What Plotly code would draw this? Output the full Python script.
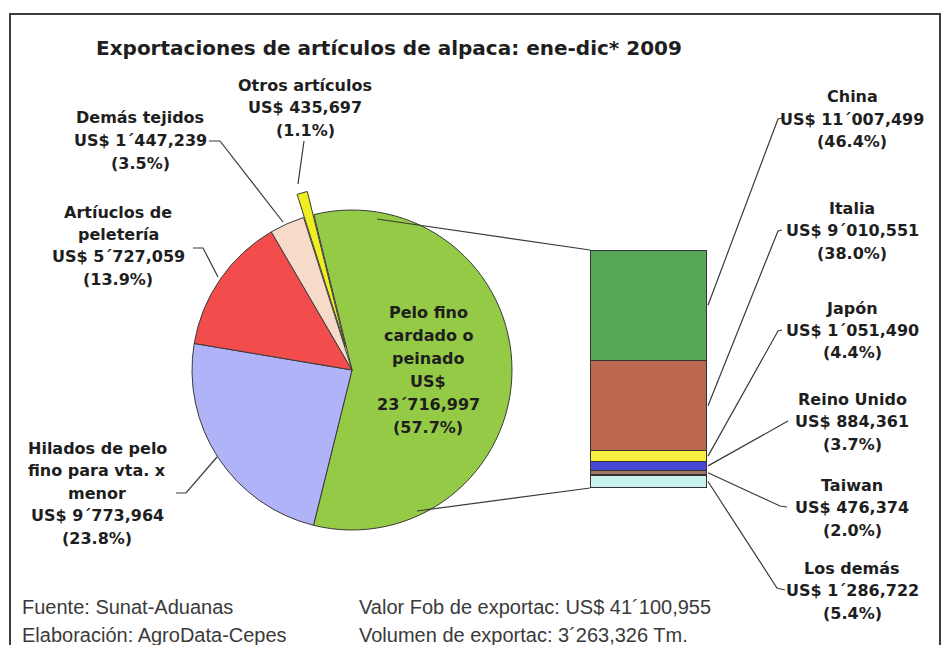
import plotly.graph_objects as go

# pie: product categories, clockwise from the big green slice
productos = ["Pelo fino cardado o peinado", "Hilados de pelo fino para vta. x menor",
             "Artíuclos de peletería", "Demás tejidos", "Otros artículos"]
valores_prod = [23716997, 9773964, 5727059, 1447239, 435697]
pct_prod = [57.7, 23.8, 13.9, 3.5, 1.1]
colores_prod = ["#94ca45", "#b0b3f7", "#f24c4c", "#f6dcc8", "#eeee22"]
pull_prod = [0, 0, 0, 0, 0.15]

# bar: destinations of "pelo fino", stacked bottom -> top
paises = ["Los demás", "Taiwan", "Reino Unido", "Japón", "Italia", "China"]
valores_pais = [1286722, 476374, 884361, 1051490, 9010551, 11007499]
pct_pais = [5.4, 2.0, 3.7, 4.4, 38.0, 46.4]
colores_pais = ["#c8f2ee", "#a07868", "#4848d8", "#f8f040", "#bc6850", "#58a85a"]

titulo = "Exportaciones de artículos de alpaca: ene-dic* 2009"
notas_izq = ["Fuente: Sunat-Aduanas", "Elaboración: AgroData-Cepes"]
notas_der = ["Valor Fob de exportac: US$ 41´100,955", "Volumen de exportac: 3´263,326 Tm."]

W, H = 941, 645
BOLD = "DejaVu Sans"
TXT = "#1e1e1e"


def px(x):
    return x / W


def py(y):
    return 1 - y / H


def fmt(v):
    if v >= 1000000:
        return f"US$ {v // 1000000}´{(v // 1000) % 1000:03d},{v % 1000:03d}"
    return f"US$ {v // 1000},{v % 1000:03d}"


fig = go.Figure()

# pie geometry (pixels)
cx, cy, r = 352, 370, 160
half = r * (1 + max(pull_prod))
fig.add_trace(go.Pie(
    labels=productos, values=valores_prod, sort=False, direction="clockwise",
    rotation=-13.8, pull=pull_prod, textinfo="none", hoverinfo="label+value",
    marker=dict(colors=colores_prod, line=dict(color="#3a3a3a", width=1)),
    domain=dict(x=[px(cx - half), px(cx + half)], y=[py(cy + half), py(cy - half)]),
    showlegend=False,
))

# stacked bar
bx0, bx1, by0, by1 = 590, 707, 250, 488
total = sum(valores_pais)
for p, v, c in zip(paises, valores_pais, colores_pais):
    fig.add_trace(go.Bar(
        x=[0], y=[v], name=p, width=1, marker=dict(color=c, line=dict(color="#333", width=1.2)),
        showlegend=False, hoverinfo="name+y",
    ))

fig.update_layout(
    barmode="stack",
    width=W, height=H,
    margin=dict(l=0, r=0, t=0, b=0),
    paper_bgcolor="white", plot_bgcolor="white",
    xaxis=dict(domain=[px(bx0), px(bx1)], range=[-0.5, 0.5], visible=False, fixedrange=True),
    yaxis=dict(domain=[py(by1), py(by0)], range=[0, total], visible=False, fixedrange=True),
)

shapes = []
line = dict(color="#3a3a3a", width=1.2)


def path(pts):
    d = "M " + " L ".join(f"{px(x):.5f},{py(y):.5f}" for x, y in pts)
    shapes.append(dict(type="path", path=d, xref="paper", yref="paper", line=line))


# frame
shapes.append(dict(type="rect", xref="paper", yref="paper", x0=px(10), y0=py(680), x1=px(940), y1=py(14),
                   line=dict(color="#3c3c3c", width=2)))

# zoom connectors pie -> bar
path([(377, 219), (bx0, by0)])
path([(417, 511), (bx0, by1)])

# segment midpoints of the bar (pixels)
mids = []
acc = 0
for v in valores_pais:
    mids.append(by1 - (acc + v / 2) / total * (by1 - by0))
    acc += v

anns = []


def label(lines, x, y0, dy=22.5, size=16, bold=True, anchor="center", family=BOLD, color=TXT):
    for i, t in enumerate(lines):
        anns.append(dict(
            text=t, x=px(x), y=py(y0 + i * dy), xref="paper", yref="paper",
            xanchor=anchor, yanchor="middle", showarrow=False,
            font=dict(family=family, size=size, color=color, weight="bold" if bold else "normal"),
        ))


# right labels (top -> bottom order of the bar: China first)
right_pos = {"China": 97, "Italia": 208, "Japón": 308, "Reino Unido": 399, "Taiwan": 485, "Los demás": 568}
leader_end = {
    "China": [(778, 119), (782, 118)],
    "Italia": [(778, 231), (782, 230)],
    "Japón": [(778, 331), (782, 330)],
    "Reino Unido": [(788, 421)],
    "Taiwan": [(780, 506), (787, 507)],
    "Los demás": [(777, 588), (785, 590)],
}
for p, v, pc, m in zip(paises, valores_pais, pct_pais, mids):
    y0 = right_pos[p]
    label([p, fmt(v), f"({pc:.1f}%)"], 852, y0)
    path([(bx1 + 1, m)] + leader_end[p])

# left labels
fp = lambda i: f"({pct_prod[i]:.1f}%)"
label(["Otros artículos", fmt(valores_prod[4]), fp(4)], 305, 85)
path([(304, 141), (298, 184)])
label(["Demás tejidos", fmt(valores_prod[3]), fp(3)], 140, 118)
path([(209, 141), (220, 141), (283, 222)])
label(["Artíuclos de", "peletería", fmt(valores_prod[2]), fp(2)], 118, 212)
path([(193, 248), (203, 248), (218, 277)])
label(["Hilados de pelo", "fino para vta. x", "menor", fmt(valores_prod[1]), fp(1)], 97, 448)
path([(176, 493), (186, 493), (217, 457)])

# label inside green slice
label(["Pelo fino", "cardado o", "peinado", "US$", fmt(valores_prod[0])[4:], fp(0)], 428, 312, dy=23)

# title
label([titulo], 389, 48, size=20)

# footer notes
label(notas_izq, 20, 607, dy=28, size=20, bold=False, anchor="left", family="Liberation Sans", color="#3a3a3a")
label(notas_der, 357, 607, dy=28, size=20, bold=False, anchor="left", family="Liberation Sans", color="#3a3a3a")

fig.update_layout(shapes=shapes, annotations=anns)
# drop the default 8px body margin so the figure sits at the window's top-left
fig.write_html("out.html", config={"displayModeBar": False},
               post_script="document.body.style.margin='0';")
